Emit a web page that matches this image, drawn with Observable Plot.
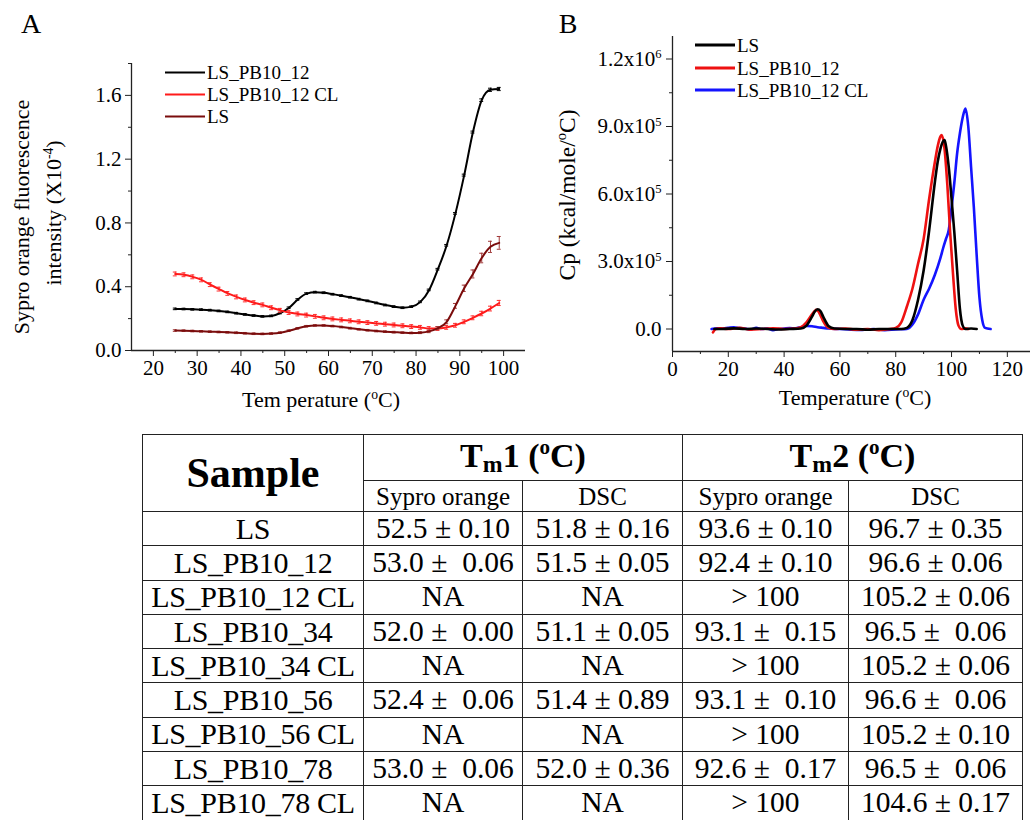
<!DOCTYPE html>
<html><head><meta charset="utf-8">
<script src="https://cdn.jsdelivr.net/npm/d3@7"></script>
<script src="https://cdn.jsdelivr.net/npm/@observablehq/plot@0.6"></script>
<style>
body{margin:0;background:#fff;}
#fig{position:relative;width:1030px;height:820px;overflow:hidden;background:#fff;font-family:"Liberation Serif","Times New Roman",serif;color:#000;}
.abs{position:absolute;white-space:nowrap;line-height:1;}
.c{transform:translate(-50%,-50%);}
.r{transform:translate(-50%,-50%) rotate(-90deg);}
sup{font-size:0.62em;vertical-align:0;position:relative;top:-0.62em;}
sub{font-size:0.7em;vertical-align:0;position:relative;top:0.22em;}
.leg{position:absolute;display:flex;align-items:center;white-space:nowrap;line-height:1;}
.leg .l{display:inline-block;width:40px;margin-right:2px;}
table{position:absolute;left:142px;top:434px;border-collapse:collapse;table-layout:fixed;width:880px;}
td{border:1.5px solid #222;padding:0;text-align:center;vertical-align:middle;line-height:1;white-space:pre;font-size:29.5px;}
td.n{font-size:30px;letter-spacing:-0.3px;}
td.h{font-weight:bold;}
td.s{font-size:25px;}
svg{position:absolute;top:0;}
</style></head><body><div id="fig"></div><script>
// ---------- Panel A data (Sypro orange fluorescence, x10^-4) ----------
const tempA = [25,27,29,31,33,35,37,39,41,43,45,47,49,51,53,55,57,59,61,63,65,67,69,71,73,75,77,79,81,83,85,87,89,91,93,95,97,99];
const yPB12 = [0.261,0.26,0.258,0.256,0.253,0.248,0.242,0.234,0.226,0.219,0.214,0.217,0.235,0.268,0.32,0.357,0.366,0.362,0.353,0.344,0.334,0.322,0.311,0.298,0.285,0.275,0.268,0.275,0.305,0.38,0.51,0.66,0.86,1.1,1.37,1.57,1.635,1.64];
const errPB12 = [0.005,0.005,0.005,0.005,0.005,0.005,0.005,0.005,0.005,0.005,0.005,0.005,0.005,0.005,0.005,0.005,0.005,0.005,0.005,0.005,0.005,0.005,0.005,0.005,0.005,0.005,0.005,0.005,0.005,0.005,0.005,0.005,0.005,0.006,0.006,0.008,0.01,0.01];
const yPB12CL = [0.48,0.475,0.462,0.443,0.413,0.385,0.358,0.336,0.317,0.3,0.286,0.268,0.252,0.238,0.229,0.222,0.214,0.205,0.198,0.192,0.186,0.18,0.175,0.17,0.165,0.16,0.155,0.15,0.145,0.138,0.138,0.145,0.158,0.18,0.205,0.232,0.263,0.298];
const errPB12CL = [0.012,0.012,0.012,0.012,0.012,0.012,0.012,0.012,0.012,0.012,0.012,0.012,0.012,0.012,0.012,0.012,0.012,0.012,0.012,0.012,0.012,0.012,0.012,0.012,0.012,0.012,0.012,0.012,0.012,0.012,0.012,0.012,0.012,0.012,0.012,0.014,0.015,0.016];
const yLS = [0.125,0.124,0.122,0.12,0.118,0.116,0.114,0.111,0.108,0.105,0.104,0.106,0.112,0.124,0.139,0.152,0.157,0.157,0.153,0.147,0.14,0.133,0.127,0.122,0.118,0.115,0.112,0.11,0.112,0.12,0.14,0.18,0.28,0.39,0.48,0.58,0.65,0.675];
const errLS = [0.005,0.005,0.005,0.005,0.005,0.005,0.005,0.005,0.005,0.005,0.005,0.005,0.005,0.005,0.005,0.005,0.005,0.005,0.005,0.005,0.005,0.005,0.005,0.005,0.005,0.005,0.005,0.005,0.006,0.008,0.01,0.012,0.015,0.02,0.025,0.03,0.035,0.04];
const seriesANames = ["LS_PB10_12","LS_PB10_12 CL","LS"];
const seriesAColors = ["#000000","#ff1a1a","#7a0c0c"];
const seriesAErrColors = ["#000000","#ff3030","#a03a3a"];
const xTicksA = [20,30,40,50,60,70,80,90,100];
const xMinorA = [25,35,45,55,65,75,85,95];
const yTicksA = [0,0.4,0.8,1.2,1.6];
const yTickLabelsA = ["0.0","0.4","0.8","1.2","1.6"];
const yMinorA = [0.2,0.6,1.0,1.4,1.8];

// ---------- Panel B data (DSC, Cp in kcal/mole/°C, values x1000) ----------
const tLS_B = [15,18,22,26,30,34,38,42,46,48,50,51,52,53,54,56,58,62,66,70,74,78,82,84,86,88,90,92,94,95,96,97,97.5,98,99,100,101,102,103,104,105,107,109];
const cpLS_B = [0,0,3,0,2,0,-2,0,2,15,55,78,88,80,55,12,2,0,0,-3,0,0,0,5,40,130,260,440,650,740,800,835,840,815,720,580,430,260,90,15,0,2,0];
const tPB12_B = [14.5,15.5,17,20,24,28,32,36,40,44,46,48,50,51,51.5,52,53,54,56,58,62,66,70,74,78,80,82,84,86,88,90,92,94,95,96,96.5,97.5,98.5,99.5,100.5,101.5,102.5,103.5,105,106];
const cpPB12_B = [-15,0,3,0,5,-3,0,3,0,2,8,30,65,80,85,82,62,35,5,0,2,-3,0,-5,0,5,30,100,180,290,400,580,740,810,855,862,800,640,430,250,90,15,0,3,0];
const tCL_B = [14,16,18,20,22,24,26,28,30,32,34,36,38,40,42,44,46,48,50,52,54,56,60,64,68,72,76,80,84,86,88,90,92,94,96,97,98,99,100,101,102,103,104,105,106,107,108,109,110,111,112,114];
const cpCL_B = [0,3,2,5,8,4,2,-2,5,0,2,-5,0,2,4,3,8,14,12,8,5,2,0,-3,-4,0,-5,-2,0,20,65,130,180,240,315,360,400,440,540,650,780,870,940,980,900,720,540,330,140,40,5,0];
const seriesBNames = ["LS","LS_PB10_12","LS_PB10_12 CL"];
const seriesBColors = ["#000000","#ee1111","#1414ff"];
const xTicksB = [0,20,40,60,80,100,120];
const xMinorB = [10,30,50,70,90,110];
const yTicksB = [0,300000,600000,900000,1200000];
const yTickLabelsB = ["0.0","3.0x10^5","6.0x10^5","9.0x10^5","1.2x10^6"];
const yMinorB = [150000,450000,750000,1050000];

// ---------- Table data ----------
const samples = ["LS","LS_PB10_12","LS_PB10_12 CL","LS_PB10_34","LS_PB10_34 CL","LS_PB10_56","LS_PB10_56 CL","LS_PB10_78","LS_PB10_78 CL"];
const tm1Sypro = ["52.5 ± 0.10","53.0 ±  0.06","NA","52.0 ±  0.00","NA","52.4 ±  0.06","NA","53.0 ±  0.06","NA"];
const tm1DSC = ["51.8 ± 0.16","51.5 ± 0.05","NA","51.1 ± 0.05","NA","51.4 ± 0.89","NA","52.0 ± 0.36","NA"];
const tm2Sypro = ["93.6 ± 0.10","92.4 ± 0.10","> 100","93.1 ±  0.15","> 100","93.1 ±  0.10","> 100","92.6 ±  0.17","> 100"];
const tm2DSC = ["96.7 ± 0.35","96.6 ± 0.06","105.2 ± 0.06","96.5 ±  0.06","105.2 ± 0.06","96.6 ±  0.06","105.2 ± 0.10","96.5 ±  0.06","104.6 ± 0.17"];

const fig = document.getElementById("fig");
const axisColor = "#222";

// ---------- Panel A ----------
const ysA = [yPB12, yPB12CL, yLS];
const errsA = [errPB12, errPB12CL, errLS];
const marksA = [
  Plot.axisX({ticks: xTicksA, tickSize: 6, tickPadding: 4, tickFormat: d => String(d), label: null, stroke: axisColor}),
  Plot.axisX({ticks: xMinorA, tickSize: 3, tickFormat: () => "", label: null, stroke: axisColor}),
  Plot.axisY({ticks: yTicksA, tickSize: 6, tickPadding: 4, tickFormat: d => yTickLabelsA[yTicksA.indexOf(d)], label: null, stroke: axisColor}),
  Plot.axisY({ticks: yMinorA, tickSize: 3, tickFormat: () => "", label: null, stroke: axisColor}),
  Plot.ruleX([15], {stroke: axisColor, strokeWidth: 1.3}),
  Plot.ruleY([0], {stroke: axisColor, strokeWidth: 1.3})
];
ysA.forEach((ys, k) => {
  const rows = ys.map((v, i) => ({x: tempA[i], y: v, e: errsA[k][i]}));
  marksA.push(
    Plot.ruleX(rows, {x: "x", y1: d => d.y - d.e, y2: d => d.y + d.e, stroke: seriesAErrColors[k], strokeWidth: 1}),
    Plot.ruleY(rows, {y: d => d.y + d.e, x1: d => d.x - 0.45, x2: d => d.x + 0.45, stroke: seriesAErrColors[k], strokeWidth: 1}),
    Plot.ruleY(rows, {y: d => d.y - d.e, x1: d => d.x - 0.45, x2: d => d.x + 0.45, stroke: seriesAErrColors[k], strokeWidth: 1}),
    Plot.line(rows, {x: "x", y: "y", stroke: seriesAColors[k], strokeWidth: 2, curve: "monotone-x"})
  );
});
const svgA = Plot.plot({
  width: 530, height: 400,
  marginLeft: 131, marginRight: 5, marginTop: 63, marginBottom: 50,
  x: {domain: [15, 105]},
  y: {domain: [0, 1.8]},
  style: {fontFamily: "Liberation Serif", fontSize: "21px", color: "#000", background: "transparent", overflow: "visible"},
  marks: marksA
});
svgA.style.left = "0px";
fig.appendChild(svgA);

// ---------- Panel B ----------
const tB = [tLS_B, tPB12_B, tCL_B];
const cpB = [cpLS_B, cpPB12_B, cpCL_B];
const marksB = [
  Plot.axisX({ticks: xTicksB, tickSize: 6, tickPadding: 4, tickFormat: d => String(d), label: null, stroke: axisColor}),
  Plot.axisX({ticks: xMinorB, tickSize: 3, tickFormat: () => "", label: null, stroke: axisColor}),
  Plot.axisY({ticks: yTicksB, tickSize: 6, tickPadding: 5, tickFormat: d => yTickLabelsB[yTicksB.indexOf(d)], label: null, stroke: axisColor}),
  Plot.axisY({ticks: yMinorB, tickSize: 3, tickFormat: () => "", label: null, stroke: axisColor}),
  Plot.ruleX([0], {stroke: axisColor, strokeWidth: 1.3}),
  Plot.ruleY([-100000], {stroke: axisColor, strokeWidth: 1.3})
];
[2, 1, 0].forEach(k => {
  const rows = tB[k].map((t, i) => ({x: t, y: cpB[k][i] * 1000}));
  marksB.push(Plot.line(rows, {x: "x", y: "y", stroke: seriesBColors[k], strokeWidth: 2.6, curve: "monotone-x"}));
});
const svgB = Plot.plot({
  width: 500, height: 400,
  marginLeft: 142, marginRight: 0, marginTop: 36, marginBottom: 49,
  x: {domain: [0, 128.3]},
  y: {domain: [-100000, 1300000]},
  style: {fontFamily: "Liberation Serif", fontSize: "21px", color: "#000", background: "transparent", overflow: "visible"},
  marks: marksB
});
svgB.style.left = "530px";
svgB.querySelectorAll("text").forEach(t => {
  const s = t.textContent;
  if (s.includes("^")) {
    const [base, exp] = s.split("^");
    t.textContent = base;
    const ts = document.createElementNS("http://www.w3.org/2000/svg", "tspan");
    ts.setAttribute("dy", "-0.6em");
    ts.setAttribute("font-size", "0.6em");
    ts.textContent = exp;
    t.appendChild(ts);
  }
});
fig.appendChild(svgB);

// ---------- Labels ----------
function addLabel(html, x, y, cls, size, extra) {
  const d = document.createElement("div");
  d.className = "abs " + cls;
  d.style.left = x + "px"; d.style.top = y + "px";
  d.style.fontSize = size + "px";
  if (extra) Object.assign(d.style, extra);
  d.innerHTML = html;
  fig.appendChild(d);
}
addLabel("A", 31, 24, "c", 28);
addLabel("B", 568, 24, "c", 28);
addLabel("Tem perature (<sup>o</sup>C)", 321, 400, "c", 22);
addLabel("Temperature (<sup>o</sup>C)", 855, 398, "c", 22);
addLabel("Sypro orange fluorescence", 22, 217, "r", 22);
addLabel("intensity (X10<sup>-4</sup>)", 54, 213, "r", 22);
addLabel("Cp (kcal/mole/<sup>o</sup>C)", 568, 195, "r", 23.5);

// ---------- Legends ----------
function addLegend(names, colors, x, y0, dy, size, lw) {
  names.forEach((n, i) => {
    const d = document.createElement("div");
    d.className = "leg";
    d.style.left = x + "px";
    d.style.top = (y0 + i * dy) + "px";
    d.style.transform = "translateY(-50%)";
    d.style.fontSize = size + "px";
    d.innerHTML = `<span class="l" style="height:${lw}px;background:${colors[i]}"></span>${n}`;
    fig.appendChild(d);
  });
}
addLegend(seriesANames, seriesAColors, 165, 72, 22, 19, 2);
addLegend(seriesBNames, seriesBColors, 695, 45, 22.5, 19, 3);

// ---------- Table ----------
const tbl = document.createElement("table");
const colW = [221, 159, 160, 166, 174];
let html = "<colgroup>" + colW.map(w => `<col style="width:${w}px">`).join("") + "</colgroup>";
html += `<tr style="height:46px"><td class="h" rowspan="2" style="font-size:42px">Sample</td>` +
  `<td class="h" colspan="2" style="font-size:34px;vertical-align:top;padding-top:4px">T<sub>m</sub>1 (<sup>o</sup>C)</td>` +
  `<td class="h" colspan="2" style="font-size:34px;vertical-align:top;padding-top:4px">T<sub>m</sub>2 (<sup>o</sup>C)</td></tr>`;
html += `<tr style="height:31px"><td class="s">Sypro orange</td><td class="s">DSC</td><td class="s">Sypro orange</td><td class="s">DSC</td></tr>`;
samples.forEach((s, i) => {
  html += `<tr style="height:34.3px"><td class="n">${s}</td><td>${tm1Sypro[i]}</td><td>${tm1DSC[i]}</td><td>${tm2Sypro[i]}</td><td>${tm2DSC[i]}</td></tr>`;
});
tbl.innerHTML = html;
fig.appendChild(tbl);
</script></body></html>
